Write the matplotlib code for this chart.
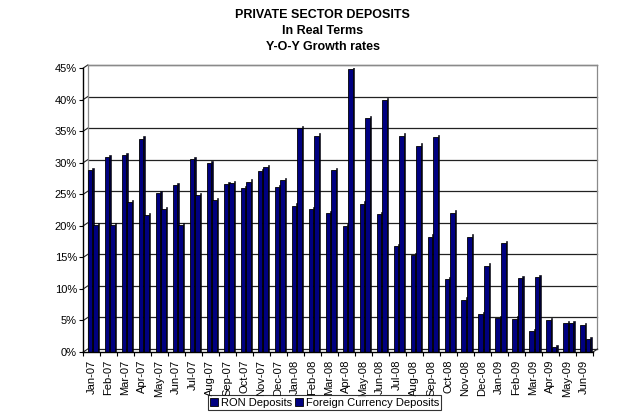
import matplotlib
matplotlib.use("Agg")
import matplotlib.pyplot as plt
import numpy as np

plt.rcParams['font.family'] = ['Liberation Sans', 'DejaVu Sans']

months = ["Jan-07", "Feb-07", "Mar-07", "Apr-07", "May-07", "Jun-07", "Jul-07", "Aug-07",
          "Sep-07", "Oct-07", "Nov-07", "Dec-07", "Jan-08", "Feb-08", "Mar-08", "Apr-08",
          "May-08", "Jun-08", "Jul-08", "Aug-08", "Sep-08", "Oct-08", "Nov-08", "Dec-08",
          "Jan-09", "Feb-09", "Mar-09", "Apr-09", "May-09", "Jun-09"]

ron_deposits = [28.8, 30.9, 31.2, 33.8, 25.2, 26.5, 30.6, 29.9, 26.6, 26.0,
                28.7, 26.1, 23.2, 22.7, 22.0, 19.9, 23.5, 21.8, 16.8, 15.4,
                18.3, 11.6, 8.3, 6.0, 5.4, 5.3, 3.3, 5.1, 4.6, 4.3]

fx_deposits = [20.1, 20.1, 23.8, 21.7, 22.7, 20.1, 24.8, 24.1, 26.7, 27.0,
               29.3, 27.2, 35.5, 34.3, 28.8, 44.8, 37.1, 39.9, 34.3, 32.7,
               34.1, 22.1, 18.3, 13.7, 17.2, 11.7, 11.9, 0.8, 4.6, 2.0]

y_ticks = [0, 5, 10, 15, 20, 25, 30, 35, 40, 45]

front_color = "#000080"
side_color = "#00002e"

fig = plt.figure(figsize=(6.4, 4.2), dpi=100)
ax = fig.add_axes([83.3 / 640, 68 / 420, 509.7 / 640, 284 / 420])
n = len(months)
ax.set_xlim(0, n)
ax.set_ylim(0, 45)

# depth offset of the back wall (in data units: ~4.5 px right, 3 px up)
dx = 4.5 / (509.7 / n)
dy = 3.0 / (284 / 45)

# back wall: gridlines, edges and the diagonal joints to the front axis
for v in y_ticks:
    ax.plot([dx, n + dx], [v + dy, v + dy], color="#222222", lw=0.9, clip_on=False, zorder=1)
    ax.plot([0, dx], [v, v + dy], color="#222222", lw=0.8, clip_on=False, zorder=1)
ax.plot([n + dx, n + dx], [dy, 45 + dy], color="#8a8a8a", lw=0.9, clip_on=False, zorder=1)
ax.plot([dx, n + dx], [45 + dy, 45 + dy], color="#8a8a8a", lw=0.9, clip_on=False, zorder=1)
ax.plot([dx, dx], [dy, 45 + dy], color="#8a8a8a", lw=0.9, clip_on=False, zorder=1)
ax.plot([n, n + dx], [0, dy], color="#222222", lw=0.8, clip_on=False, zorder=1)

x = np.arange(n)
front_w = 0.25
side_w = 0.10
depth_h = 0.35

ron_x = x + 0.26
fx_x = x + 0.60

# RON bars: dark side face then front face
ax.bar(ron_x + front_w, np.array(ron_deposits) + depth_h, width=side_w, align="edge",
       color=side_color, edgecolor="black", linewidth=0.4, zorder=2)
ax.bar(ron_x, ron_deposits, width=front_w, align="edge",
       color=front_color, edgecolor="black", linewidth=0.6, zorder=3, label="RON Deposits")
# Foreign currency bars
ax.bar(fx_x + front_w, np.array(fx_deposits) + depth_h, width=side_w, align="edge",
       color=side_color, edgecolor="black", linewidth=0.4, zorder=4)
ax.bar(fx_x, fx_deposits, width=front_w, align="edge",
       color=front_color, edgecolor="black", linewidth=0.6, zorder=5,
       label="Foreign Currency Deposits")

# axes styling
for side in ("top", "right"):
    ax.spines[side].set_visible(False)
ax.spines["left"].set_color("black")
ax.spines["bottom"].set_color("black")
ax.spines["left"].set_linewidth(1.0)
ax.spines["bottom"].set_linewidth(1.0)
ax.spines["left"].set_zorder(6)
ax.spines["bottom"].set_zorder(6)

ax.set_yticks(y_ticks)
ax.set_yticklabels([f"{v}%" for v in y_ticks], fontsize=8)
ax.tick_params(axis="y", direction="out", length=3, width=0.8, pad=1.5)

ax.set_xticks(np.arange(n + 1), minor=True)
ax.set_xticks(x + 0.47)
ax.set_xticklabels(months, rotation=90, fontsize=8)
ax.tick_params(axis="x", which="major", length=0, pad=5.5)
ax.tick_params(axis="x", which="minor", direction="out", length=3, width=0.8)

# title
fig.text(0.504, 1 - 15.5 / 420, "PRIVATE SECTOR DEPOSITS", ha="center", va="center",
         fontsize=9, fontweight="bold")
fig.text(0.504, 1 - 31.5 / 420, "In Real Terms", ha="center", va="center",
         fontsize=9, fontweight="bold")
fig.text(0.504, 1 - 47.5 / 420, "Y-O-Y Growth rates", ha="center", va="center",
         fontsize=9, fontweight="bold")

leg = fig.legend(loc="center", bbox_to_anchor=(324.5 / 640, 1 - 402.5 / 420), ncol=2,
                 fontsize=8, frameon=True, fancybox=False, edgecolor="black",
                 handlelength=0.7, handleheight=0.7, handletextpad=0.25,
                 columnspacing=0.3, borderpad=0.2, borderaxespad=0)
leg.get_frame().set_linewidth(0.8)

fig.savefig("out.png", dpi=100, facecolor="white")
